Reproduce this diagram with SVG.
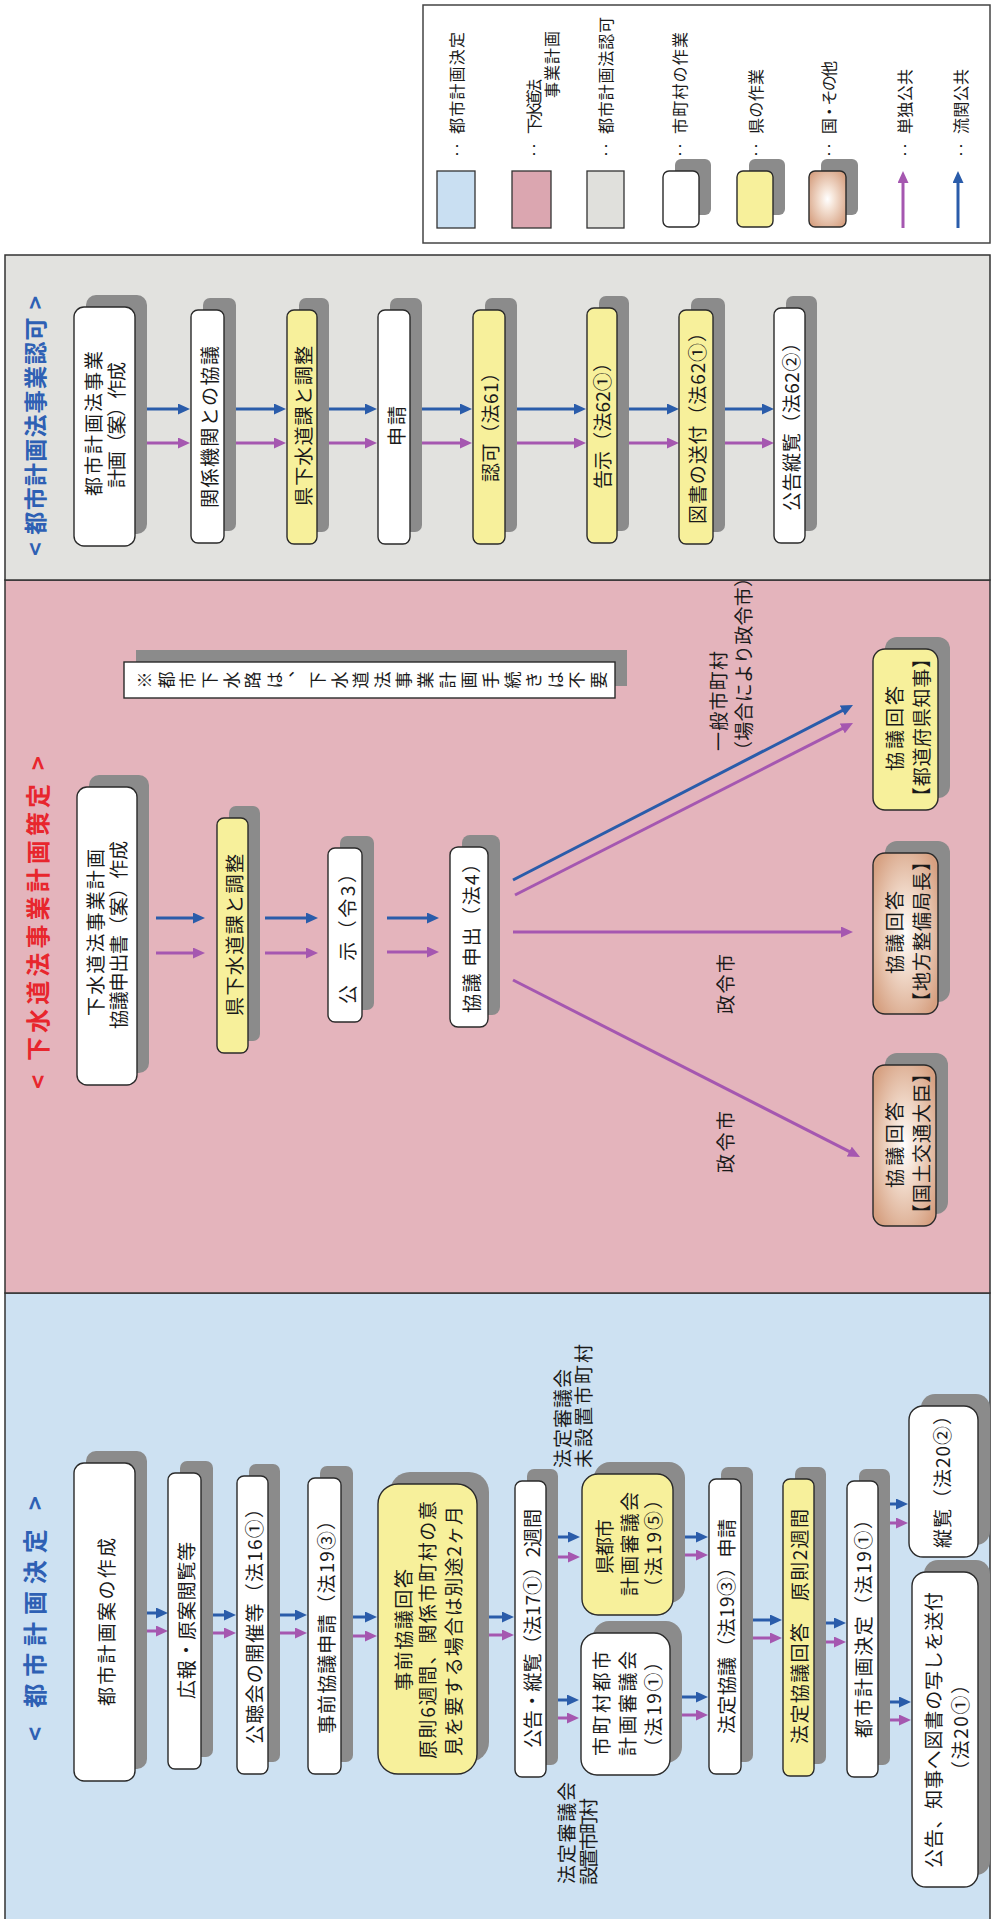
<svg xmlns="http://www.w3.org/2000/svg" width="992" height="1919" viewBox="0 0 992 1919">
<style>
.t{font-family:'Noto Sans CJK JP','Noto Sans CJK SC',sans-serif;font-size:19px;fill:#1a1a1a;dominant-baseline:central}
.tl{font-family:'Noto Sans CJK JP','Noto Sans CJK SC',sans-serif;font-size:16px;fill:#1a1a1a;dominant-baseline:central}
.hb{font-family:'Noto Sans CJK JP','Noto Sans CJK SC',sans-serif;font-size:23px;font-weight:700;fill:#2e60b4;dominant-baseline:central}
.hr{font-family:'Noto Sans CJK JP','Noto Sans CJK SC',sans-serif;font-size:24px;font-weight:700;fill:#e8262d;dominant-baseline:central}
.sh{fill:#8b8b8b}
.bx{stroke:#2a2a2a;stroke-width:1.4}
.w{fill:#ffffff}
.y{fill:#f7f09b}
.tan{fill:url(#tanG)}
.ab{stroke:#2a5caa;stroke-width:3;fill:none;marker-end:url(#mb)}
.ap{stroke:#a557b0;stroke-width:3;fill:none;marker-end:url(#mp)}
.sec{stroke:#333;stroke-width:1.5}
</style>
<defs>
<radialGradient id="tanG" cx="50%" cy="50%" r="62%">
<stop offset="0" stop-color="#ffffff"/>
<stop offset="0.3" stop-color="#f5e3d6"/>
<stop offset="1" stop-color="#d6a081"/>
</radialGradient>
<marker id="mb" markerUnits="userSpaceOnUse" viewBox="0 0 12 11" markerWidth="12" markerHeight="11" refX="3" refY="5.5" orient="auto"><path d="M0,0L12,5.5L0,11z" fill="#2a5caa"/></marker>
<marker id="mp" markerUnits="userSpaceOnUse" viewBox="0 0 12 11" markerWidth="12" markerHeight="11" refX="3" refY="5.5" orient="auto"><path d="M0,0L12,5.5L0,11z" fill="#a557b0"/></marker>
</defs>
<rect width="992" height="1919" fill="#ffffff"/>
<g transform="matrix(0,-1,1,0,0,1919)">
<!-- sections -->
<g id="sections">
<rect x="-2" y="5" width="628" height="985" fill="#cde1f2" class="sec"/>
<rect x="626" y="5" width="713" height="985" fill="#e4b4bc" class="sec"/>
<rect x="1339" y="5" width="325" height="985" fill="#e2e2df" class="sec"/>
</g>
<!-- legend -->
<g id="legend">
<rect x="1676" y="423" width="238" height="567" fill="#ffffff" stroke="#444" stroke-width="1.5"/>
<rect x="1691" y="437" width="57" height="38" fill="#c9dff2" stroke="#333" stroke-width="1.3"/>
<rect x="1691" y="512" width="57" height="39" fill="#dba6b0" stroke="#333" stroke-width="1.3"/>
<rect x="1691" y="587" width="57" height="37" fill="#e0e0dc" stroke="#333" stroke-width="1.3"/>
<rect x="1704" y="675" width="56" height="36" rx="6" class="sh"/>
<rect x="1692" y="663" width="56" height="36" rx="6" class="bx w"/>
<rect x="1704" y="749" width="56" height="36" rx="6" class="sh"/>
<rect x="1692" y="737" width="56" height="36" rx="6" class="bx y"/>
<rect x="1704" y="821" width="56" height="37" rx="6" class="sh"/>
<rect x="1692" y="809" width="56" height="37" rx="6" class="bx tan"/>
<line x1="1691" y1="903" x2="1739" y2="903" class="ap"/>
<line x1="1691" y1="958" x2="1739" y2="958" class="ab"/>
<text class="tl" x="1769" y="456" text-anchor="middle">‥</text>
<text class="tl" x="1769" y="533" text-anchor="middle">‥</text>
<text class="tl" x="1769" y="605" text-anchor="middle">‥</text>
<text class="tl" x="1769" y="679" text-anchor="middle">‥</text>
<text class="tl" x="1769" y="755" text-anchor="middle">‥</text>
<text class="tl" x="1769" y="828" text-anchor="middle">‥</text>
<text class="tl" x="1769" y="904" text-anchor="middle">‥</text>
<text class="tl" x="1769" y="960" text-anchor="middle">‥</text>
<text class="tl" x="1785" y="456" textLength="102" lengthAdjust="spacing">都市計画決定</text>
<text class="tl" x="1785" y="533" textLength="55" lengthAdjust="spacing">下水道法</text>
<text class="tl" x="1821" y="551" textLength="67" lengthAdjust="spacing">事業計画</text>
<text class="tl" x="1785" y="605" textLength="117" lengthAdjust="spacing">都市計画法認可</text>
<text class="tl" x="1785" y="679" textLength="102" lengthAdjust="spacing">市町村の作業</text>
<text class="tl" x="1785" y="755" textLength="65" lengthAdjust="spacing">県の作業</text>
<text class="tl" x="1785" y="828" textLength="73" lengthAdjust="spacing">国・その他</text>
<text class="tl" x="1785" y="904" textLength="65" lengthAdjust="spacing">単独公共</text>
<text class="tl" x="1785" y="960" textLength="65" lengthAdjust="spacing">流関公共</text>
</g>
<!-- headers -->
<text id="hdr-ninka" class="hb" x="1363" y="34" textLength="260" lengthAdjust="spacing">&lt; 都市計画法事業認可 &gt;</text>
<text id="hdr-gesui" class="hr" x="830" y="36" textLength="333" lengthAdjust="spacing">&lt; 下水道法事業計画策定 &gt;</text>
<text id="hdr-toshi" class="hb" x="178" y="33" textLength="245" lengthAdjust="spacing" style="font-size:24px">&lt; 都市計画決定 &gt;</text>
<!-- connectors -->
<g id="connectors">
<line x1="1510" y1="147" x2="1510" y2="181" class="ab"/><line x1="1476" y1="147" x2="1476" y2="181" class="ap"/>
<line x1="1510" y1="231" x2="1510" y2="277" class="ab"/><line x1="1476" y1="231" x2="1476" y2="277" class="ap"/>
<line x1="1510" y1="325" x2="1510" y2="368" class="ab"/><line x1="1476" y1="325" x2="1476" y2="368" class="ap"/>
<line x1="1510" y1="421" x2="1510" y2="463" class="ab"/><line x1="1476" y1="421" x2="1476" y2="463" class="ap"/>
<line x1="1510" y1="516" x2="1510" y2="577" class="ab"/><line x1="1476" y1="516" x2="1476" y2="577" class="ap"/>
<line x1="1510" y1="628" x2="1510" y2="670" class="ab"/><line x1="1476" y1="628" x2="1476" y2="670" class="ap"/>
<line x1="1510" y1="722" x2="1510" y2="765" class="ab"/><line x1="1476" y1="722" x2="1476" y2="765" class="ap"/>
<line x1="1001" y1="156" x2="1001" y2="196" class="ab"/><line x1="966" y1="156" x2="966" y2="196" class="ap"/>
<line x1="1001" y1="265" x2="1001" y2="309" class="ab"/><line x1="966" y1="265" x2="966" y2="309" class="ap"/>
<line x1="1001" y1="387" x2="1001" y2="430" class="ab"/><line x1="967" y1="387" x2="967" y2="430" class="ap"/>
<line x1="1039" y1="513" x2="1209.9" y2="845" class="ab"/>
<line x1="1024" y1="515" x2="1191.9" y2="845" class="ap"/>
<line x1="987" y1="513" x2="987" y2="844" class="ap"/>
<line x1="939" y1="513" x2="766.1" y2="852" class="ap"/>
<line x1="306" y1="144" x2="306" y2="159" class="ab"/><line x1="288" y1="144" x2="288" y2="159" class="ap"/>
<line x1="304" y1="211" x2="304" y2="227" class="ab"/><line x1="286" y1="211" x2="286" y2="227" class="ap"/>
<line x1="304" y1="279" x2="304" y2="298" class="ab"/><line x1="286" y1="279" x2="286" y2="298" class="ap"/>
<line x1="302" y1="353" x2="302" y2="368" class="ab"/><line x1="283" y1="353" x2="283" y2="368" class="ap"/>
<line x1="302" y1="489" x2="302" y2="505" class="ab"/><line x1="284" y1="489" x2="284" y2="505" class="ap"/>
<line x1="382" y1="554" x2="382" y2="571" class="ab"/><line x1="362" y1="554" x2="362" y2="571" class="ap"/>
<line x1="219" y1="554" x2="219" y2="570" class="ab"/><line x1="201" y1="554" x2="201" y2="570" class="ap"/>
<line x1="382" y1="685" x2="382" y2="699" class="ab"/><line x1="364" y1="685" x2="364" y2="699" class="ap"/>
<line x1="222" y1="682" x2="222" y2="699" class="ab"/><line x1="204" y1="682" x2="204" y2="699" class="ap"/>
<line x1="299" y1="753" x2="299" y2="773" class="ab"/><line x1="281" y1="753" x2="281" y2="773" class="ap"/>
<line x1="296" y1="826" x2="296" y2="837" class="ab"/><line x1="277" y1="826" x2="277" y2="837" class="ap"/>
<line x1="415" y1="890" x2="415" y2="899" class="ab"/><line x1="396" y1="890" x2="396" y2="899" class="ap"/>
<line x1="217" y1="890" x2="217" y2="902" class="ab"/><line x1="199" y1="890" x2="199" y2="902" class="ap"/>
</g>
<!-- gray section nodes -->
<g id="n-g1"><rect x="1385" y="86" width="239" height="61" rx="10" class="sh"/><rect x="1373" y="74" width="239" height="61" rx="10" class="bx w"/>
<text class="t" x="1423" y="92" textLength="145" lengthAdjust="spacing">都市計画法事業</text>
<text class="t" x="1431" y="115" textLength="126" lengthAdjust="spacing">計画（案）作成</text></g>
<g id="n-g2"><rect x="1388" y="203" width="233" height="33" rx="7" class="sh"/><rect x="1376" y="191" width="233" height="33" rx="7" class="bx w"/>
<text class="t" x="1411" y="208" textLength="162" lengthAdjust="spacing">関係機関との協議</text></g>
<g id="n-g3"><rect x="1387" y="299" width="234" height="30" rx="7" class="sh"/><rect x="1375" y="287" width="234" height="30" rx="7" class="bx y"/>
<text class="t" x="1413" y="302" textLength="160" lengthAdjust="spacing">県下水道課と調整</text></g>
<g id="n-g4"><rect x="1387" y="390" width="234" height="32" rx="7" class="sh"/><rect x="1375" y="378" width="234" height="32" rx="7" class="bx w"/>
<text class="t" x="1473" y="395" textLength="40" lengthAdjust="spacing">申請</text></g>
<g id="n-g5"><rect x="1387" y="485" width="234" height="32" rx="7" class="sh"/><rect x="1375" y="473" width="234" height="32" rx="7" class="bx y"/>
<text class="t" x="1437" y="489" textLength="119" lengthAdjust="spacing">認可（法61）</text></g>
<g id="n-g6"><rect x="1388" y="599" width="235" height="30" rx="7" class="sh"/><rect x="1376" y="587" width="235" height="30" rx="7" class="bx y"/>
<text class="t" x="1430" y="601" textLength="136" lengthAdjust="spacing">告示（法62①）</text></g>
<g id="n-g7"><rect x="1387" y="691" width="234" height="34" rx="7" class="sh"/><rect x="1375" y="679" width="234" height="34" rx="7" class="bx y"/>
<text class="t" x="1395" y="696" textLength="201" lengthAdjust="spacing">図書の送付（法62①）</text></g>
<g id="n-g8"><rect x="1388" y="786" width="235" height="31" rx="7" class="sh"/><rect x="1376" y="774" width="235" height="31" rx="7" class="bx w"/>
<text class="t" x="1408" y="790" textLength="178" lengthAdjust="spacing">公告縦覧（法62②）</text></g>
<!-- pink section nodes -->
<g id="n-p1"><rect x="846" y="89" width="298" height="60" rx="10" class="sh"/><rect x="834" y="77" width="298" height="60" rx="10" class="bx w"/>
<text class="t" x="903" y="94" textLength="167" lengthAdjust="spacing">下水道法事業計画</text>
<text class="t" x="890" y="117" textLength="188" lengthAdjust="spacing">協議申出書（案）作成</text></g>
<g id="n-p2"><rect x="878" y="229" width="235" height="31" rx="7" class="sh"/><rect x="866" y="217" width="235" height="31" rx="7" class="bx y"/>
<text class="t" x="903" y="233" textLength="162" lengthAdjust="spacing">県下水道課と調整</text></g>
<g id="n-p3"><rect x="909" y="340" width="174" height="34" rx="7" class="sh"/><rect x="897" y="328" width="174" height="34" rx="7" class="bx w"/>
<text class="t" x="915" y="346" textLength="140" lengthAdjust="spacing">公　示（令3）</text></g>
<g id="n-p4"><rect x="904" y="462" width="180" height="38" rx="8" class="sh"/><rect x="892" y="450" width="180" height="38" rx="8" class="bx w"/>
<text class="t" x="906" y="470" textLength="159" lengthAdjust="spacing">協議 申出（法4）</text></g>
<g id="n-note"><rect x="1233" y="136" width="36" height="491" class="sh"/><rect x="1221" y="124" width="36" height="491" fill="#fff" stroke="#2a2a2a" stroke-width="1.4"/>
<text class="t" style="font-size:17px" x="1239 1239 1239 1239 1239 1239 1239 1250 1239 1239 1239 1239 1239 1239 1239 1239 1239 1239 1239 1239 1239 1239" y="143.5 165.1 186.7 208.4 230.0 251.6 273.2 285.0 316.5 338.1 359.7 381.3 402.9 424.6 446.2 467.8 489.4 511.0 532.7 554.3 575.9 597.5" text-anchor="middle">※都市下水路は、下水道法事業計画手続きは不要</text></g>
<g id="lbl-ippan">
<text class="t" x="1168" y="717" textLength="100" lengthAdjust="spacing">一般市町村</text>
<text class="t" x="1159" y="742" textLength="192" lengthAdjust="spacing">（場合により政令市）</text></g>
<text id="lbl-seirei1" class="t" x="905" y="724" textLength="60" lengthAdjust="spacing">政令市</text>
<text id="lbl-seirei2" class="t" x="746" y="724" textLength="62" lengthAdjust="spacing">政令市</text>
<g id="n-ra"><rect x="1121" y="885" width="161" height="65" rx="12" class="sh"/><rect x="1109" y="873" width="161" height="65" rx="12" class="bx y"/>
<text class="t" x="1148" y="893" textLength="85" lengthAdjust="spacing">協議回答</text>
<text class="t" x="1113" y="920" textLength="157" lengthAdjust="spacing">【都道府県知事】</text></g>
<g id="n-rb"><rect x="917" y="885" width="161" height="65" rx="12" class="sh"/><rect x="905" y="873" width="161" height="65" rx="12" class="bx tan"/>
<text class="t" x="945" y="893" textLength="83" lengthAdjust="spacing">協議回答</text>
<text class="t" x="908" y="920" textLength="159" lengthAdjust="spacing">【地方整備局長】</text></g>
<g id="n-rc"><rect x="705" y="885" width="161" height="63" rx="12" class="sh"/><rect x="693" y="873" width="161" height="63" rx="12" class="bx tan"/>
<text class="t" x="731" y="893" textLength="86" lengthAdjust="spacing">協議回答</text>
<text class="t" x="696" y="920" textLength="159" lengthAdjust="spacing">【国土交通大臣】</text></g>
<!-- blue section nodes -->
<g id="n-b1"><rect x="150" y="86" width="318" height="61" rx="10" class="sh"/><rect x="138" y="74" width="318" height="61" rx="10" class="bx w"/>
<text class="t" x="213" y="105" textLength="168" lengthAdjust="spacing">都市計画案の作成</text></g>
<g id="n-b2"><rect x="162" y="180" width="296" height="33" rx="7" class="sh"/><rect x="150" y="168" width="296" height="33" rx="7" class="bx w"/>
<text class="t" x="220" y="185" textLength="157" lengthAdjust="spacing">広報・原案閲覧等</text></g>
<g id="n-b3"><rect x="157" y="249" width="298" height="31" rx="7" class="sh"/><rect x="145" y="237" width="298" height="31" rx="7" class="bx w"/>
<text class="t" x="175" y="253" textLength="245" lengthAdjust="spacing">公聴会の開催等（法16①）</text></g>
<g id="n-b4"><rect x="157" y="320" width="296" height="33" rx="7" class="sh"/><rect x="145" y="308" width="296" height="33" rx="7" class="bx w"/>
<text class="t" x="185" y="325" textLength="223" lengthAdjust="spacing">事前協議申請（法19③）</text></g>
<g id="n-b5"><rect x="157" y="390" width="290" height="99" rx="20" class="sh"/><rect x="145" y="378" width="290" height="99" rx="20" class="bx y"/>
<text class="t" x="228" y="402" textLength="122" lengthAdjust="spacing">事前協議回答</text>
<text class="t" x="160" y="426" textLength="258" lengthAdjust="spacing">原則6週間、関係市町村の意</text>
<text class="t" x="163" y="452" textLength="250" lengthAdjust="spacing">見を要する場合は別途2ヶ月</text></g>
<g id="n-b6"><rect x="154" y="527" width="296" height="31" rx="7" class="sh"/><rect x="142" y="515" width="296" height="31" rx="7" class="bx w"/>
<text class="t" x="171" y="531" textLength="239" lengthAdjust="spacing">公告・縦覧（法17①）2週間</text></g>
<g id="n-b7"><rect x="156" y="593" width="142" height="89" rx="16" class="sh"/><rect x="144" y="581" width="142" height="89" rx="16" class="bx w"/>
<text class="t" x="163" y="600" textLength="105" lengthAdjust="spacing">市町村都市</text>
<text class="t" x="163" y="626" textLength="105" lengthAdjust="spacing">計画審議会</text>
<text class="t" x="162" y="652" textLength="105" lengthAdjust="spacing">（法19①）</text></g>
<g id="n-b8"><rect x="316" y="594" width="141" height="91" rx="16" class="sh"/><rect x="304" y="582" width="141" height="91" rx="16" class="bx y"/>
<text class="t" x="345" y="603" textLength="55" lengthAdjust="spacing">県都市</text>
<text class="t" x="323" y="628" textLength="104" lengthAdjust="spacing">計画審議会</text>
<text class="t" x="322" y="652" textLength="107" lengthAdjust="spacing">（法19⑤）</text></g>
<g id="lbl-misechi">
<text class="t" x="451" y="561" textLength="99" lengthAdjust="spacing">法定審議会</text>
<text class="t" x="451" y="582" textLength="124" lengthAdjust="spacing">未設置市町村</text></g>
<g id="lbl-sechi">
<text class="t" x="35" y="565" textLength="102" lengthAdjust="spacing">法定審議会</text>
<text class="t" x="34" y="587" textLength="87" lengthAdjust="spacing">設置市町村</text></g>
<g id="n-b11"><rect x="157" y="721" width="295" height="32" rx="7" class="sh"/><rect x="145" y="709" width="295" height="32" rx="7" class="bx w"/>
<text class="t" x="185" y="725" textLength="215" lengthAdjust="spacing">法定協議（法19③）申請</text></g>
<g id="n-b12"><rect x="155" y="795" width="297" height="31" rx="7" class="sh"/><rect x="143" y="783" width="297" height="31" rx="7" class="bx y"/>
<text class="t" x="175" y="798" textLength="235" lengthAdjust="spacing">法定協議回答　原則2週間</text></g>
<g id="n-b13"><rect x="154" y="859" width="296" height="31" rx="7" class="sh"/><rect x="142" y="847" width="296" height="31" rx="7" class="bx w"/>
<text class="t" x="181" y="862" textLength="228" lengthAdjust="spacing">都市計画決定（法19①）</text></g>
<g id="n-b14"><rect x="374" y="921" width="151" height="69" rx="14" class="sh"/><rect x="362" y="909" width="151" height="69" rx="14" class="bx w"/>
<text class="t" x="371" y="941" textLength="142" lengthAdjust="spacing">縦覧（法20②）</text></g>
<g id="n-b15"><rect x="44" y="924" width="315" height="66" rx="14" class="sh"/><rect x="32" y="912" width="315" height="66" rx="14" class="bx w"/>
<text class="t" x="51" y="932" textLength="276" lengthAdjust="spacing">公告、知事へ図書の写しを送付</text>
<text class="t" x="139" y="959" textLength="105" lengthAdjust="spacing">（法20①）</text></g>
</g>
</svg>
